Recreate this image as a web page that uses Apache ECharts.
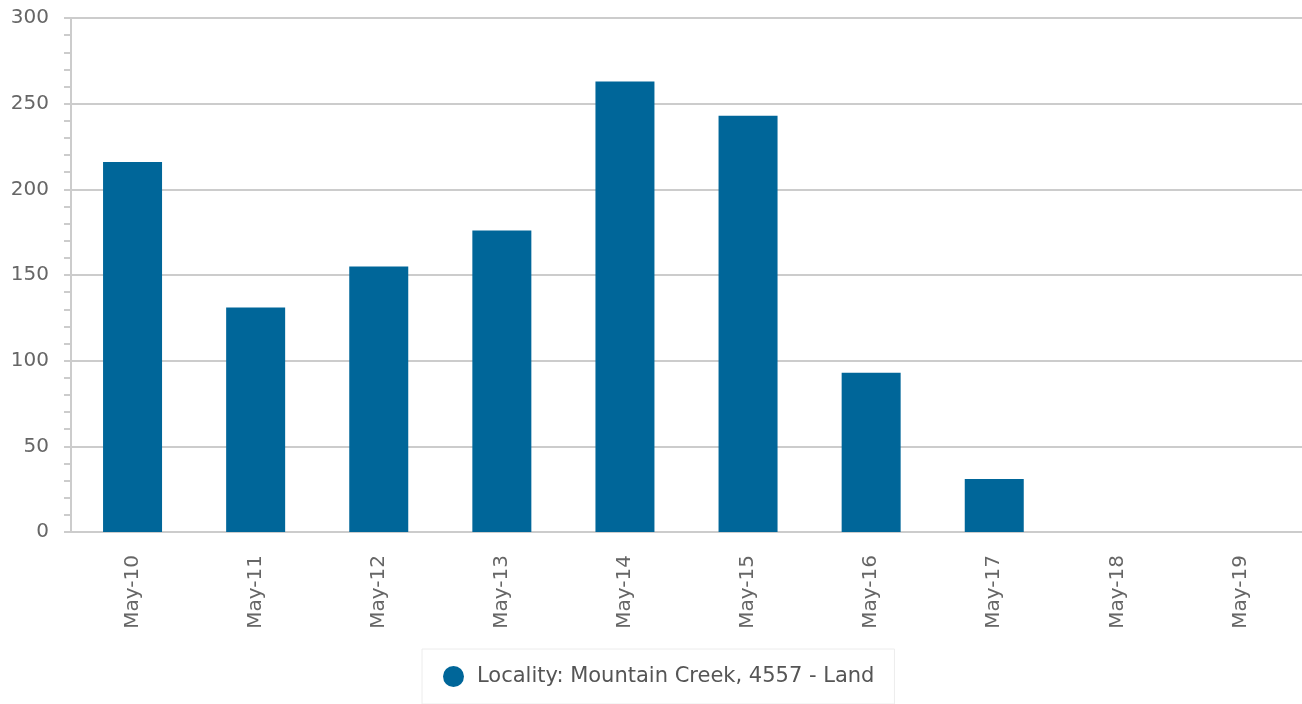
<!DOCTYPE html>
<html>
<head>
<meta charset="utf-8">
<title>Mountain Creek - Land</title>
<script src="https://cdn.jsdelivr.net/npm/echarts@6/dist/echarts.min.js"></script>
<style>
  html, body { margin: 0; padding: 0; background: #fff; }
  #main { width: 1302px; height: 704px; }
</style>
</head>
<body>
<div id="main"></div>
<script>
// data
var days = ['May-10', 'May-11', 'May-12', 'May-13', 'May-14', 'May-15', 'May-16', 'May-17', 'May-18', 'May-19'];
var landValues = [216, 131, 155, 176, 263, 243, 93, 31, 0, 0];
var seriesName = 'Locality: Mountain Creek, 4557 - Land';
var yTicks = [0, 50, 100, 150, 200, 250, 300];

var chart = echarts.init(document.getElementById('main'), null, { renderer: 'canvas' });

var option = {
  animation: false,
  textStyle: { fontFamily: 'DejaVu Sans' },
  grid: { left: 71, right: 0, top: 18, bottom: 172, containLabel: false },
  legend: {
    data: [seriesName],
    left: 422,
    top: 649,
    icon: 'circle',
    itemWidth: 21,
    itemHeight: 21,
    padding: [17, 20, 17, 21],
    borderColor: '#ececec',
    borderWidth: 1,
    textStyle: { fontSize: 21, color: '#555555', padding: [0, 0, 0, 8] }
  },
  xAxis: {
    type: 'category',
    data: days,
    axisLine: { lineStyle: { color: '#cccccc', width: 2 } },
    axisTick: { alignWithLabel: true, length: 18, lineStyle: { color: '#ccd6eb', width: 2 } },
    axisLabel: { rotate: 90, margin: 23, fontSize: 20, color: '#666666' }
  },
  yAxis: {
    type: 'value',
    min: yTicks[0],
    max: yTicks[yTicks.length - 1],
    interval: 50,
    axisLine: { show: true, lineStyle: { color: '#cccccc', width: 2 } },
    axisTick: { show: true, length: 7, lineStyle: { color: '#cccccc', width: 2 } },
    minorTick: { show: true, splitNumber: 5, length: 7, lineStyle: { color: '#cccccc', width: 2 } },
    splitLine: { lineStyle: { color: '#cccccc', width: 2 } },
    axisLabel: { margin: 22, fontSize: 20, color: '#666666' }
  },
  series: [{
    name: seriesName,
    type: 'bar',
    data: landValues,
    barWidth: 59,
    itemStyle: { color: '#006699' }
  }]
};

chart.setOption(option);
</script>
</body>
</html>
